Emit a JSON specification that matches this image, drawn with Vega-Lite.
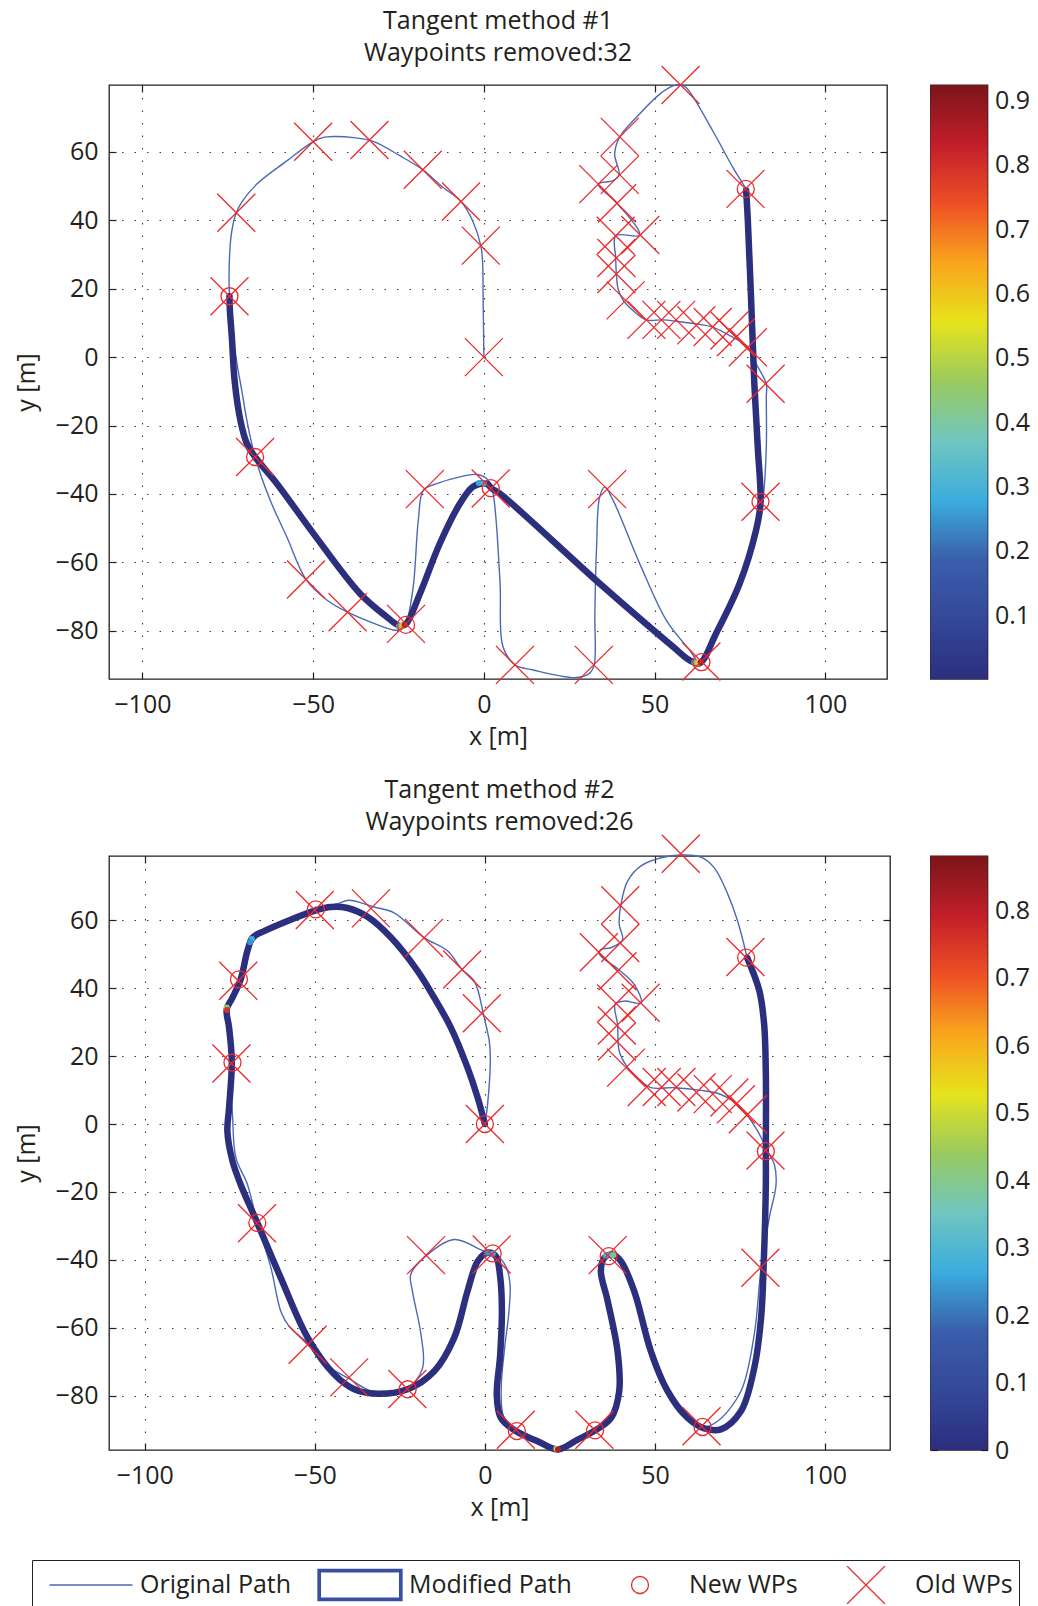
{
"$schema": "https://vega.github.io/schema/vega-lite/v6.json",
"background": "white",
"padding": {"left": 13, "top": 8, "right": 0, "bottom": 0},
"autosize": {"type": "pad"},
"columns": 2,
"spacing": {"row": 177, "column": 40.5},
"bounds": "flush",
"align": "none",
"config": {
  "view": {"stroke": "#231f20", "strokeWidth": 1.3},
  "axis": {"labelFont": "Open Sans", "labelFontSize": 25, "labelColor": "#231f20", "titleFont": "Open Sans", "titleFontSize": 25, "titleFontWeight": "normal", "titleColor": "#231f20", "domain": false, "ticks": true, "tickSize": -7, "tickColor": "#231f20", "tickWidth": 1.2, "labelPadding": 18, "gridColor": "#3a3a3a", "gridDash": [1.5, 11], "gridWidth": 1.1, "gridOpacity": 1, "labelFlush": false, "labelOverlap": false, "titlePadding": 16},
  "axisX": {"labelPadding": 20, "titlePadding": 7},
  "title": {"font": "Open Sans", "fontSize": 25, "fontWeight": "normal", "color": "#231f20", "lineHeight": 32, "offset": -3, "anchor": "middle", "baseline": "bottom", "frame": "group"}
},
"datasets": {
  "p1o": [
    {"i":0,"x":0,"y":0},{"i":1,"x":-0.2,"y":15.6},{"i":2,"x":-0.4,"y":28.2},{"i":3,"x":-0.9,"y":32.6},{"i":4,"x":-3.3,"y":39.9},{"i":5,"x":-6.7,"y":45.5},{"i":6,"x":-11.9,"y":49.6},{"i":7,"x":-17.9,"y":54.8},{"i":8,"x":-24.6,"y":58.9},{"i":9,"x":-32.4,"y":63.1},{"i":10,"x":-38.2,"y":64.2},{"i":11,"x":-44.1,"y":64.5},{"i":12,"x":-47.2,"y":64.2},{"i":13,"x":-50,"y":63},{"i":14,"x":-57.7,"y":57.4},{"i":15,"x":-66.5,"y":50.6},{"i":16,"x":-70.9,"y":45.3},{"i":17,"x":-72.5,"y":42.2},{"i":18,"x":-73.8,"y":37},{"i":19,"x":-74.5,"y":29.2},{"i":20,"x":-74.5,"y":17.8},{"i":21,"x":-73.8,"y":9.8},{"i":22,"x":-72.3,"y":-1.9},{"i":23,"x":-70.9,"y":-9.7},{"i":24,"x":-69.4,"y":-18.5},{"i":25,"x":-67,"y":-29.2},{"i":26,"x":-62.6,"y":-41.8},{"i":27,"x":-57.7,"y":-52.6},{"i":28,"x":-52.1,"y":-65},{"i":29,"x":-46,"y":-71},{"i":30,"x":-39.9,"y":-74.6},{"i":31,"x":-32.4,"y":-77.8},{"i":32,"x":-26.5,"y":-79.8},{"i":33,"x":-24.1,"y":-79.6},{"i":34,"x":-22.8,"y":-78},{"i":35,"x":-20.7,"y":-67.2},{"i":36,"x":-19.2,"y":-47.7},{"i":37,"x":-17.7,"y":-38.9},{"i":38,"x":-13.8,"y":-37},{"i":39,"x":-7,"y":-35},{"i":40,"x":-2.1,"y":-34.3},{"i":41,"x":0.8,"y":-35.5},{"i":42,"x":2.3,"y":-38},{"i":43,"x":4.7,"y":-65.2},{"i":44,"x":5.6,"y":-84.7},{"i":45,"x":9.1,"y":-90},{"i":46,"x":14.4,"y":-91.5},{"i":47,"x":27.1,"y":-93.7},{"i":48,"x":31,"y":-92.4},{"i":49,"x":32.3,"y":-90},{"i":50,"x":32.5,"y":-74.9},{"i":51,"x":33,"y":-55.5},{"i":52,"x":33.9,"y":-40.9},{"i":53,"x":35.4,"y":-38},{"i":54,"x":37.8,"y":-41.8},{"i":55,"x":45.6,"y":-60.3},{"i":56,"x":53.4,"y":-76.9},{"i":57,"x":60.2,"y":-85.6},{"i":58,"x":63.2,"y":-89.1},{"i":59,"x":68,"y":-80.8},{"i":60,"x":74.9,"y":-65.2},{"i":61,"x":79.7,"y":-50.6},{"i":62,"x":81.7,"y":-41.8},{"i":63,"x":82.7,"y":-26.3},{"i":64,"x":82.7,"y":-11.7},{"i":65,"x":82.7,"y":-7.8},{"i":66,"x":79.7,"y":-1.9},{"i":67,"x":77.3,"y":2.9},{"i":68,"x":72.9,"y":5.8},{"i":69,"x":67,"y":8.8},{"i":70,"x":62.2,"y":9.7},{"i":71,"x":56.3,"y":10.5},{"i":72,"x":52.4,"y":10.9},{"i":73,"x":47.6,"y":10.9},{"i":74,"x":43.7,"y":13.6},{"i":75,"x":40.8,"y":16.6},{"i":76,"x":39.3,"y":20},{"i":77,"x":38.8,"y":24.3},{"i":78,"x":38.6,"y":29.2},{"i":79,"x":38.6,"y":35.5},{"i":80,"x":45.6,"y":35.7},{"i":81,"x":39,"y":45},{"i":82,"x":33.5,"y":50.6},{"i":83,"x":37.8,"y":51.6},{"i":84,"x":39.6,"y":53.3},{"i":85,"x":38.3,"y":59.4},{"i":86,"x":39.8,"y":64.4},{"i":87,"x":45.6,"y":71.1},{"i":88,"x":51.5,"y":76.9},{"i":89,"x":55.4,"y":79.3},{"i":90,"x":57.6,"y":79.6},{"i":91,"x":59.3,"y":78.8},{"i":92,"x":67,"y":66.2},{"i":93,"x":72.9,"y":55.5},{"i":94,"x":76.8,"y":49.2}
  ],
  "p1m": [
    {"i":0,"x":-74.5,"y":17.8},{"i":1,"x":-74.4,"y":14},{"i":2,"x":-73.8,"y":5.8},{"i":3,"x":-73,"y":-6.8},{"i":4,"x":-71.3,"y":-18.5},{"i":5,"x":-69.4,"y":-25.3},{"i":6,"x":-67,"y":-29.2},{"i":7,"x":-60.6,"y":-37},{"i":8,"x":-49.9,"y":-51.6},{"i":9,"x":-36.3,"y":-69.1},{"i":10,"x":-28.5,"y":-75.9},{"i":11,"x":-24.6,"y":-78.6},{"i":12,"x":-22.8,"y":-78},{"i":13,"x":-18.7,"y":-69.1},{"i":14,"x":-12.9,"y":-54.5},{"i":15,"x":-7,"y":-42.8},{"i":16,"x":-3.1,"y":-37.8},{"i":17,"x":0.8,"y":-37},{"i":18,"x":2.3,"y":-38.4},{"i":19,"x":4.7,"y":-39.9},{"i":20,"x":33.9,"y":-66.2},{"i":21,"x":55.4,"y":-84.7},{"i":22,"x":60.2,"y":-88.6},{"i":23,"x":63.2,"y":-89.5},{"i":24,"x":68,"y":-80.8},{"i":25,"x":74.9,"y":-66.2},{"i":26,"x":79.7,"y":-50.6},{"i":27,"x":81,"y":-42.8},{"i":28,"x":80.2,"y":-26.3},{"i":29,"x":79.2,"y":-7.8},{"i":30,"x":78.3,"y":15.6},{"i":31,"x":77.3,"y":39.9},{"i":32,"x":76.8,"y":48.7}
  ],
  "p1n": [
    {"x":-74.5,"y":17.8},{"x":-67,"y":-29.2},{"x":-22.8,"y":-78.3},{"x":2,"y":-38.3},{"x":63.7,"y":-89.2},{"x":81,"y":-42.3},{"x":76.7,"y":49.2}
  ],
  "hot1": [
    {"x":-1.5,"y":-36.8,"v":0.27},{"x":0,"y":-36.9,"v":0.3},{"x":-24.9,"y":-78.7,"v":0.3},{"x":-24.3,"y":-78.6,"v":0.45},{"x":-23.7,"y":-78.5,"v":0.6},{"x":-23.2,"y":-78.3,"v":0.85},{"x":61.6,"y":-89.2,"v":0.3},{"x":62.3,"y":-89.4,"v":0.45},{"x":62.9,"y":-89.4,"v":0.6},{"x":63.5,"y":-89.2,"v":0.88}
  ],
  "old": [
    {"x":0,"y":0},{"x":-0.9,"y":32.6},{"x":-6.7,"y":45.5},{"x":-17.9,"y":54.8},{"x":-33.5,"y":63.5},{"x":-50,"y":63},{"x":-72.5,"y":42.2},{"x":-74.5,"y":17.8},{"x":-67,"y":-29.2},{"x":-52.1,"y":-65},{"x":-39.9,"y":-74.6},{"x":-22.8,"y":-78},{"x":-17.3,"y":-38.6},{"x":2,"y":-38.4},{"x":9.1,"y":-90},{"x":32.2,"y":-90},{"x":36.1,"y":-38.6},{"x":63.7,"y":-89},{"x":81,"y":-42.3},{"x":82.5,"y":-7.8},{"x":57.6,"y":79.6},{"x":76.6,"y":49.2},
    {"x":39.8,"y":64.4},{"x":39.8,"y":53.3},{"x":33.5,"y":50.6},{"x":39,"y":45},{"x":45.8,"y":35.7},{"x":38.6,"y":35.5},{"x":38.8,"y":29},{"x":38.8,"y":24.3},{"x":41.5,"y":16.6},{"x":47.6,"y":10.9},{"x":52,"y":10.9},{"x":56.3,"y":10.9},{"x":62.2,"y":9.3},{"x":67,"y":8.8},{"x":71.9,"y":7.8},{"x":73.8,"y":5.8},{"x":77.3,"y":2.9}
  ],
  "p2o": [
    {"i":0,"x":0,"y":0},{"i":1,"x":0.8,"y":5.8},{"i":2,"x":1.6,"y":19.5},{"i":3,"x":1.3,"y":24.4},{"i":4,"x":-0.2,"y":31.3},{"i":5,"x":-3.1,"y":42.1},{"i":6,"x":-6.8,"y":45.6},{"i":7,"x":-11,"y":51},{"i":8,"x":-17.9,"y":54.9},{"i":9,"x":-26.7,"y":62.2},{"i":10,"x":-32.6,"y":63.9},{"i":11,"x":-39.9,"y":65.9},{"i":12,"x":-43.3,"y":64.9},{"i":13,"x":-49.7,"y":63.2},{"i":14,"x":-58,"y":59.8},{"i":15,"x":-65.9,"y":55.9},{"i":16,"x":-68.3,"y":53.4},{"i":17,"x":-70,"y":49},{"i":18,"x":-71.8,"y":42.6},{"i":19,"x":-74.2,"y":37.2},{"i":20,"x":-75.3,"y":33.5},{"i":21,"x":-75,"y":28.4},{"i":22,"x":-74.4,"y":18.4},{"i":23,"x":-74.6,"y":10},{"i":24,"x":-74.2,"y":2.9},{"i":25,"x":-73.2,"y":-9.9},{"i":26,"x":-69.8,"y":-17.8},{"i":27,"x":-66.9,"y":-29.1},{"i":28,"x":-62.9,"y":-42.3},{"i":29,"x":-60,"y":-55.1},{"i":30,"x":-57.6,"y":-59.5},{"i":31,"x":-51.7,"y":-64.9},{"i":32,"x":-45.3,"y":-71.8},{"i":33,"x":-39.9,"y":-75},{"i":34,"x":-35.5,"y":-77.7},{"i":35,"x":-31.6,"y":-79.4},{"i":36,"x":-27,"y":-79.2},{"i":37,"x":-22.7,"y":-78.1},{"i":38,"x":-18.3,"y":-71.8},{"i":39,"x":-18.8,"y":-61.9},{"i":40,"x":-21.3,"y":-49.2},{"i":41,"x":-21.8,"y":-44.3},{"i":42,"x":-17.4,"y":-38.9},{"i":43,"x":-9,"y":-34},{"i":44,"x":-0.2,"y":-37.4},{"i":45,"x":2.7,"y":-37.9},{"i":46,"x":6.2,"y":-42},{"i":47,"x":7.4,"y":-47.2},{"i":48,"x":7,"y":-56},{"i":49,"x":5.8,"y":-66},{"i":50,"x":4.8,"y":-78},{"i":51,"x":5.5,"y":-86},{"i":52,"x":9.4,"y":-90.4},{"i":53,"x":15.5,"y":-93.2},{"i":54,"x":21.4,"y":-95.6},{"i":55,"x":27.3,"y":-92.7},{"i":56,"x":32.4,"y":-90.2},{"i":57,"x":37,"y":-86.3},{"i":58,"x":39.3,"y":-78.6},{"i":59,"x":38.8,"y":-66.9},{"i":60,"x":36,"y":-52.1},{"i":61,"x":34.2,"y":-43.3},{"i":62,"x":35.2,"y":-39.4},{"i":63,"x":36.4,"y":-38.9},{"i":64,"x":39.6,"y":-40.6},{"i":65,"x":43.4,"y":-49.2},{"i":66,"x":49.8,"y":-71.8},{"i":67,"x":57.6,"y":-85.5},{"i":68,"x":64,"y":-89.2},{"i":69,"x":68.4,"y":-87.5},{"i":70,"x":75.3,"y":-78.6},{"i":71,"x":79.2,"y":-61.9},{"i":72,"x":80.7,"y":-47.2},{"i":73,"x":81.2,"y":-42.3},{"i":74,"x":83.6,"y":-27.6},{"i":75,"x":85.6,"y":-17.8},{"i":76,"x":85.1,"y":-11.9},{"i":77,"x":83.1,"y":-8},{"i":78,"x":80.2,"y":-2.1},{"i":79,"x":75.3,"y":4.8},{"i":80,"x":69.4,"y":8.7},{"i":81,"x":63.5,"y":9.9},{"i":82,"x":55.7,"y":10.7},{"i":83,"x":48.8,"y":10.7},{"i":84,"x":45.9,"y":12.7},{"i":85,"x":42,"y":16.6},{"i":86,"x":39.5,"y":21.5},{"i":87,"x":39,"y":29.4},{"i":88,"x":38.3,"y":35.3},{"i":89,"x":41,"y":36.2},{"i":90,"x":45.9,"y":35.7},{"i":91,"x":43.9,"y":41.1},{"i":92,"x":39.2,"y":45.6},{"i":93,"x":33.7,"y":50},{"i":94,"x":34.1,"y":51.4},{"i":95,"x":37.1,"y":51.9},{"i":96,"x":40.5,"y":54.3},{"i":97,"x":39.5,"y":58.7},{"i":98,"x":40,"y":64.7},{"i":99,"x":42,"y":71.6},{"i":100,"x":45.9,"y":76},{"i":101,"x":51.8,"y":78.4},{"i":102,"x":57.9,"y":79.2},{"i":103,"x":63.5,"y":78.6},{"i":104,"x":67.4,"y":75.5},{"i":105,"x":71.4,"y":67.7},{"i":106,"x":74.3,"y":59.8},{"i":107,"x":77.1,"y":49}
  ],
  "p2m": [
    {"i":0,"x":0,"y":0},{"i":1,"x":-2.1,"y":7.7},{"i":2,"x":-5.1,"y":16.6},{"i":3,"x":-10,"y":28.4},{"i":4,"x":-14.9,"y":37.2},{"i":5,"x":-19.8,"y":45.1},{"i":6,"x":-27.6,"y":54.9},{"i":7,"x":-34.5,"y":61},{"i":8,"x":-40.4,"y":63.6},{"i":9,"x":-45.3,"y":63.9},{"i":10,"x":-49.7,"y":62.9},{"i":11,"x":-58,"y":59.8},{"i":12,"x":-64.9,"y":56.8},{"i":13,"x":-68.3,"y":54.9},{"i":14,"x":-69.8,"y":51},{"i":15,"x":-71.8,"y":42.6},{"i":16,"x":-74.2,"y":37.2},{"i":17,"x":-75.9,"y":33.8},{"i":18,"x":-75.2,"y":28.4},{"i":19,"x":-74.4,"y":18.4},{"i":20,"x":-75.2,"y":4.8},{"i":21,"x":-75.7,"y":-2.1},{"i":22,"x":-74.2,"y":-10.9},{"i":23,"x":-71.8,"y":-17.8},{"i":24,"x":-66.9,"y":-29.1},{"i":25,"x":-60,"y":-45.3},{"i":26,"x":-52.1,"y":-62.9},{"i":27,"x":-44.3,"y":-73.7},{"i":28,"x":-38.4,"y":-78.1},{"i":29,"x":-31.6,"y":-79.4},{"i":30,"x":-22.7,"y":-78.1},{"i":31,"x":-14.9,"y":-72.8},{"i":32,"x":-9,"y":-62.9},{"i":33,"x":-5.1,"y":-49.2},{"i":34,"x":-2.1,"y":-40.4},{"i":35,"x":0.8,"y":-37.9},{"i":36,"x":3.2,"y":-38.9},{"i":37,"x":4.5,"y":-45},{"i":38,"x":5,"y":-55},{"i":39,"x":4.5,"y":-68},{"i":40,"x":3.5,"y":-80},{"i":41,"x":4.7,"y":-86.5},{"i":42,"x":9.1,"y":-90.4},{"i":43,"x":15.5,"y":-93.4},{"i":44,"x":21.4,"y":-95.8},{"i":45,"x":27.3,"y":-92.9},{"i":46,"x":32.1,"y":-90.4},{"i":47,"x":37.1,"y":-86.5},{"i":48,"x":39.5,"y":-78.6},{"i":49,"x":39,"y":-66.9},{"i":50,"x":36.1,"y":-52.1},{"i":51,"x":34.1,"y":-43.3},{"i":52,"x":35.1,"y":-39.4},{"i":53,"x":37.6,"y":-38.4},{"i":54,"x":40,"y":-40.4},{"i":55,"x":43.9,"y":-49.2},{"i":56,"x":48.8,"y":-66.9},{"i":57,"x":53.7,"y":-78.6},{"i":58,"x":59.6,"y":-86.5},{"i":59,"x":64.5,"y":-89.6},{"i":60,"x":69.4,"y":-89.9},{"i":61,"x":75.3,"y":-84.5},{"i":62,"x":79.2,"y":-71.8},{"i":63,"x":81.2,"y":-57.1},{"i":64,"x":82,"y":-40.4},{"i":65,"x":82.6,"y":-17.8},{"i":66,"x":82.6,"y":-8},{"i":67,"x":82.6,"y":14.6},{"i":68,"x":82.1,"y":29.4},{"i":69,"x":80.7,"y":39.2},{"i":70,"x":77.1,"y":49}
  ],
  "p2n": [
    {"x":0,"y":0},{"x":-49.7,"y":63.2},{"x":-72.3,"y":42.6},{"x":-74.2,"y":18.1},{"x":-66.9,"y":-29.1},{"x":-22.7,"y":-78.1},{"x":2.3,"y":-38.1},{"x":9.4,"y":-90.4},{"x":32.4,"y":-90.2},{"x":36.4,"y":-38.9},{"x":64,"y":-89.2},{"x":76.8,"y":49},{"x":82.6,"y":-8}
  ],
  "hot2": [
    {"x":-75.9,"y":34.3,"v":0.45},{"x":-75.8,"y":33.6,"v":0.8},{"x":-68.5,"y":54.5,"v":0.3},{"x":-69,"y":53.5,"v":0.25},{"x":0.8,"y":-37.9,"v":0.25},{"x":2.3,"y":-38.2,"v":0.28},{"x":35.5,"y":-38.8,"v":0.3},{"x":36.8,"y":-38.4,"v":0.33},{"x":37.8,"y":-38.6,"v":0.42},{"x":21,"y":-95.6,"v":0.5},{"x":21.5,"y":-95.8,"v":0.85}
  ],
  "cb1": [{"lo": 0.001, "hi": 0.924, "a": 0, "b": 1}],
  "cb2": [{"lo": 0, "hi": 0.88, "a": 0, "b": 1}]
},
"concat": [
    {"width": 778, "height": 594,
     "title": {"text": ["Tangent method #1", "Waypoints removed:32"]},
     "layer": [
      {"data": {"name": "p1o"}, "mark": {"type": "line", "strokeJoin": "round", "stroke": "#4b69b4", "strokeWidth": 1.4, "interpolate": "catmull-rom"},
       "encoding": {
         "x": {"field": "x", "type": "quantitative", "scale": {"domain": [-109.78, 118.05], "nice": false, "zero": false}, "axis": {"orient": "bottom", "values": [-100, -50, 0, 50, 100], "title": "x [m]", "grid": true}},
         "y": {"field": "y", "type": "quantitative", "scale": {"domain": [-94.12, 79.58], "nice": false, "zero": false}, "axis": {"orient": "left", "values": [-80, -60, -40, -20, 0, 20, 40, 60], "title": "y [m]", "grid": true}},
         "order": {"field": "i", "type": "quantitative"}
       }},
      {"data": {"name": "p1m"}, "mark": {"type": "line", "stroke": "#2c2f7e", "strokeWidth": 6.5, "strokeJoin": "round", "strokeCap": "round", "interpolate": "catmull-rom"},
       "encoding": {
         "x": {"field": "x", "type": "quantitative", "axis": {"orient": "top", "values": [-100, -50, 0, 50, 100], "labels": false, "grid": false, "title": null}},
         "y": {"field": "y", "type": "quantitative", "axis": {"orient": "right", "values": [-80, -60, -40, -20, 0, 20, 40, 60], "labels": false, "grid": false, "title": null}},
         "order": {"field": "i", "type": "quantitative"}
       }},
      {"data": {"name": "hot1"}, "mark": {"type": "point", "filled": true, "size": 36, "opacity": 1, "strokeWidth": 0},
       "encoding": {
         "x": {"field": "x", "type": "quantitative", "axis": null},
         "y": {"field": "y", "type": "quantitative", "axis": null},
         "color": {"field": "v", "type": "quantitative", "scale": {"domain": [0, 0.924], "range": ["#2b2e7d", "#34489a", "#3a5eab", "#3bacde", "#70c6c0", "#99ca5f", "#e6e31c", "#f9a61c", "#ee4f25", "#c21e2a", "#7a1518"]}, "legend": null}
       }},
      {"data": {"name": "p1n"}, "mark": {"type": "point", "filled": false, "size": 10754, "opacity": 1, "color": "#ec2a2e", "strokeWidth": 1.3},
       "encoding": {
         "x": {"field": "x", "type": "quantitative", "axis": null},
         "y": {"field": "y", "type": "quantitative", "axis": null},
         "shape": {"datum": "New WPs", "type": "nominal", "scale": {"domain": ["Original Path", "Modified Path", "New WPs", "Old WPs"], "range": ["M-0.8,0L0.8,0", "M-0.81,-0.299L0.81,-0.299L0.81,0.299L-0.81,0.299ZM-0.787,-0.276L0.787,-0.276L0.787,0.276L-0.787,0.276ZM-0.764,-0.253L0.764,-0.253L0.764,0.253L-0.764,0.253Z", "M-0.164,0A0.164,0.164,0,1,0,0.164,0A0.164,0.164,0,1,0,-0.164,0Z", "M-0.3665,-0.3665L0.3665,0.3665M-0.3665,0.3665L0.3665,-0.3665"]},
           "legend": {"orient": "none", "legendX": -77, "legendY": 1475, "direction": "horizontal", "columns": 4, "title": null, "symbolSize": 10754, "symbolStrokeWidth": 1.3, "clipHeight": 38, "labelFont": "Open Sans", "labelFontSize": 25, "labelColor": "#231f20", "labelOffset": -4, "columnPadding": 15, "padding": 6, "strokeColor": "#231f20", "fillColor": "#ffffff", "symbolOpacity": 1, "labelLimit": 400,
             "symbolStrokeColor": {"expr": "datum.value === 'Original Path' ? '#4b69b4' : datum.value === 'Modified Path' ? '#3a4fa3' : '#ec2a2e'"},
             "symbolFillColor": "transparent"}}
       }},
      {"data": {"name": "old"}, "mark": {"type": "point", "filled": false, "size": 10754, "opacity": 1, "color": "#ec2a2e", "strokeWidth": 1.3},
       "encoding": {
         "x": {"field": "x", "type": "quantitative", "axis": null},
         "y": {"field": "y", "type": "quantitative", "axis": null},
         "shape": {"datum": "Old WPs", "type": "nominal"}
       }}
     ],
     "resolve": {"axis": {"x": "independent", "y": "independent"}}
    },
    {"width": 57, "height": 594,
     "data": {"name": "cb1"},
     "layer": [
      {"mark": {"type": "rect", "color": {"gradient": "linear", "x1": 0, "y1": 1, "x2": 0, "y2": 0, "stops": [{"offset": 0, "color": "#2b2e7d"}, {"offset": 0.1, "color": "#34489a"}, {"offset": 0.2, "color": "#3a5eab"}, {"offset": 0.3, "color": "#3bacde"}, {"offset": 0.4, "color": "#70c6c0"}, {"offset": 0.5, "color": "#99ca5f"}, {"offset": 0.6, "color": "#e6e31c"}, {"offset": 0.7, "color": "#f9a61c"}, {"offset": 0.8, "color": "#ee4f25"}, {"offset": 0.9, "color": "#c21e2a"}, {"offset": 1, "color": "#7a1518"}]}},
       "encoding": {
         "x": {"field": "a", "type": "quantitative", "scale": {"domain": [0, 1], "nice": false, "zero": false}, "axis": null},
         "x2": {"field": "b"},
         "y": {"field": "lo", "type": "quantitative", "scale": {"domain": [0.001, 0.924], "nice": false, "zero": false}, "axis": {"orient": "right", "values": [0.1, 0.2, 0.3, 0.4, 0.5, 0.6, 0.7, 0.8, 0.9], "format": "~g", "title": null, "grid": false, "labelPadding": 14}},
         "y2": {"field": "hi"}
       }},
      {"mark": {"type": "rect", "opacity": 0},
       "encoding": {
         "x": {"field": "a", "type": "quantitative", "axis": null},
         "x2": {"field": "b"},
         "y": {"field": "lo", "type": "quantitative", "axis": {"orient": "left", "values": [0.1, 0.2, 0.3, 0.4, 0.5, 0.6, 0.7, 0.8, 0.9], "labels": false, "title": null, "grid": false}},
         "y2": {"field": "hi"}
       }}
     ],
     "resolve": {"axis": {"y": "independent"}}
    },
    {"width": 781, "height": 594,
     "title": {"text": ["Tangent method #2", "Waypoints removed:26"]},
     "layer": [
      {"data": {"name": "p2o"}, "mark": {"type": "line", "strokeJoin": "round", "stroke": "#4b69b4", "strokeWidth": 1.4, "interpolate": "catmull-rom"},
       "encoding": {
         "x": {"field": "x", "type": "quantitative", "scale": {"domain": [-110.5, 119.1], "nice": false, "zero": false}, "axis": {"orient": "bottom", "values": [-100, -50, 0, 50, 100], "title": "x [m]", "grid": true}},
         "y": {"field": "y", "type": "quantitative", "scale": {"domain": [-95.98, 78.92], "nice": false, "zero": false}, "axis": {"orient": "left", "values": [-80, -60, -40, -20, 0, 20, 40, 60], "title": "y [m]", "grid": true}},
         "order": {"field": "i", "type": "quantitative"}
       }},
      {"data": {"name": "p2m"}, "mark": {"type": "line", "stroke": "#2c2f7e", "strokeWidth": 6.5, "strokeJoin": "round", "strokeCap": "round", "interpolate": "catmull-rom"},
       "encoding": {
         "x": {"field": "x", "type": "quantitative", "axis": {"orient": "top", "values": [-100, -50, 0, 50, 100], "labels": false, "grid": false, "title": null}},
         "y": {"field": "y", "type": "quantitative", "axis": {"orient": "right", "values": [-80, -60, -40, -20, 0, 20, 40, 60], "labels": false, "grid": false, "title": null}},
         "order": {"field": "i", "type": "quantitative"}
       }},
      {"data": {"name": "hot2"}, "mark": {"type": "point", "filled": true, "size": 36, "opacity": 1, "strokeWidth": 0},
       "encoding": {
         "x": {"field": "x", "type": "quantitative", "axis": null},
         "y": {"field": "y", "type": "quantitative", "axis": null},
         "color": {"field": "v", "type": "quantitative", "legend": null}
       }},
      {"data": {"name": "p2n"}, "mark": {"type": "point", "filled": false, "size": 10754, "opacity": 1, "color": "#ec2a2e", "strokeWidth": 1.3},
       "encoding": {
         "x": {"field": "x", "type": "quantitative", "axis": null},
         "y": {"field": "y", "type": "quantitative", "axis": null},
         "shape": {"datum": "New WPs", "type": "nominal"}
       }},
      {"data": {"name": "old"}, "mark": {"type": "point", "filled": false, "size": 10754, "opacity": 1, "color": "#ec2a2e", "strokeWidth": 1.3},
       "encoding": {
         "x": {"field": "x", "type": "quantitative", "axis": null},
         "y": {"field": "y", "type": "quantitative", "axis": null},
         "shape": {"datum": "Old WPs", "type": "nominal"}
       }}
     ],
     "resolve": {"axis": {"x": "independent", "y": "independent"}}
    },
    {"width": 57, "height": 594,
     "data": {"name": "cb2"},
     "layer": [
      {"mark": {"type": "rect", "color": {"gradient": "linear", "x1": 0, "y1": 1, "x2": 0, "y2": 0, "stops": [{"offset": 0, "color": "#2b2e7d"}, {"offset": 0.1, "color": "#34489a"}, {"offset": 0.2, "color": "#3a5eab"}, {"offset": 0.3, "color": "#3bacde"}, {"offset": 0.4, "color": "#70c6c0"}, {"offset": 0.5, "color": "#99ca5f"}, {"offset": 0.6, "color": "#e6e31c"}, {"offset": 0.7, "color": "#f9a61c"}, {"offset": 0.8, "color": "#ee4f25"}, {"offset": 0.9, "color": "#c21e2a"}, {"offset": 1, "color": "#7a1518"}]}},
       "encoding": {
         "x": {"field": "a", "type": "quantitative", "scale": {"domain": [0, 1], "nice": false, "zero": false}, "axis": null},
         "x2": {"field": "b"},
         "y": {"field": "lo", "type": "quantitative", "scale": {"domain": [0, 0.88], "nice": false, "zero": false}, "axis": {"orient": "right", "values": [0, 0.1, 0.2, 0.3, 0.4, 0.5, 0.6, 0.7, 0.8], "format": "~g", "title": null, "grid": false, "labelPadding": 14}},
         "y2": {"field": "hi"}
       }},
      {"mark": {"type": "rect", "opacity": 0},
       "encoding": {
         "x": {"field": "a", "type": "quantitative", "axis": null},
         "x2": {"field": "b"},
         "y": {"field": "lo", "type": "quantitative", "axis": {"orient": "left", "values": [0, 0.1, 0.2, 0.3, 0.4, 0.5, 0.6, 0.7, 0.8], "labels": false, "title": null, "grid": false}},
         "y2": {"field": "hi"}
       }}
     ],
     "resolve": {"axis": {"y": "independent"}}
    }
]
}
